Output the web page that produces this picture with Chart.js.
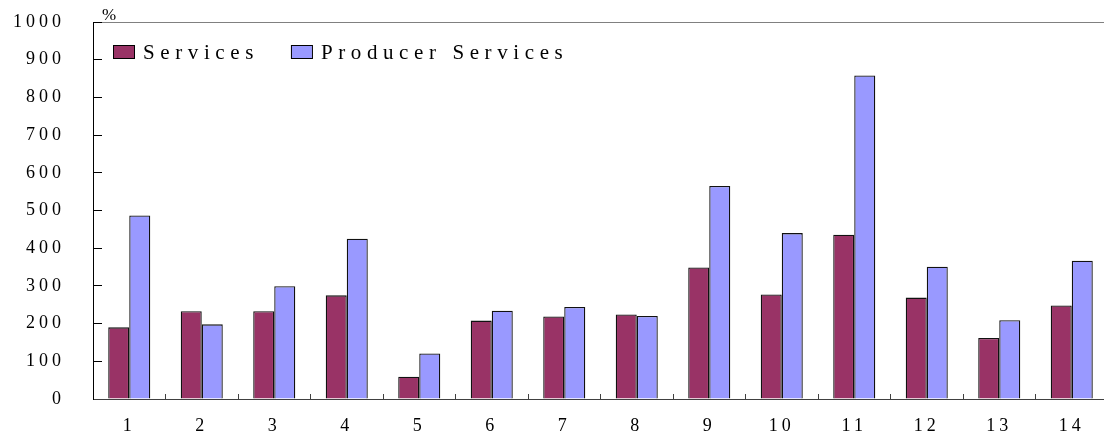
<!DOCTYPE html>
<html lang="en">
<head>
    <meta charset="UTF-8">
    <title>Services vs Producer Services</title>
    <script src="https://cdn.jsdelivr.net/npm/chart.js"></script>
    <style>
        html, body { margin: 0; background: #fff; overflow: hidden; }
        /* plot runs a few px past the right edge, like the original */
        #wrap { width: 1108px; height: 440px; }
    </style>
</head>
<body>
    <div id="wrap"><canvas id="myChart"></canvas></div>

    <script>
        // data
        const categories = ['1','2','3','4','5','6','7','8','9','10','11','12','13','14'];
        const services = [190, 233, 233, 275, 59, 208, 219, 224, 349, 277, 436, 269, 162, 248];
        const producerServices = [487, 198, 299, 425, 121, 234, 244, 220, 565, 440, 858, 351, 209, 367];
        const seriesNames = ['Services', 'Producer Services'];
        const unitLabel = '%';

        const serif = '"Liberation Serif", "Times New Roman", serif';

        // legend drawn inside the plot, plus the % unit
        const insideLegend = {
            id: 'insideLegend',
            beforeDraw(chart) {
                chart.ctx.letterSpacing = '4px';
            },
            afterDraw(chart) {
                const ctx = chart.ctx;
                ctx.save();
                ctx.font = '21px ' + serif;
                ctx.letterSpacing = '5.6px';
                ctx.textBaseline = 'alphabetic';
                ctx.textAlign = 'left';
                let x = 113;
                chart.data.datasets.forEach((ds) => {
                    ctx.fillStyle = ds.backgroundColor;
                    ctx.fillRect(x, 45, 21, 13);
                    ctx.strokeStyle = '#000';
                    ctx.lineWidth = 1;
                    ctx.strokeRect(x + 0.5, 45.5, 21, 13);
                    ctx.fillStyle = '#000';
                    ctx.fillText(ds.label, x + 30, 59);
                    x += 30 + ctx.measureText(ds.label).width + 32;
                });
                ctx.letterSpacing = '0px';
                ctx.font = '17px ' + serif;
                ctx.fillText(unitLabel, 102, 20);
                ctx.restore();
            }
        };

        const ctx = document.querySelector('#myChart').getContext('2d');
        const myChart = new Chart(ctx, {
            type: 'bar',
            data: {
                labels: categories,
                datasets: [
                    {
                        label: seriesNames[0],
                        data: services,
                        backgroundColor: '#993366',
                        borderColor: '#111',
                        borderWidth: 1.3
                    },
                    {
                        label: seriesNames[1],
                        data: producerServices,
                        backgroundColor: '#9999FF',
                        borderColor: '#111',
                        borderWidth: 1.3
                    }
                ]
            },
            options: {
                responsive: true,
                maintainAspectRatio: false,
                animation: false,
                categoryPercentage: 0.58,
                barPercentage: 1.0,
                layout: { padding: { top: 22, left: 0, right: 0, bottom: 0 } },
                plugins: {
                    legend: { display: false },
                    tooltip: { enabled: false }
                },
                scales: {
                    x: {
                        grid: {
                            offset: true,
                            drawOnChartArea: false,
                            tickLength: -5,
                            tickColor: '#404040'
                        },
                        border: { color: '#404040', width: 1 },
                        ticks: {
                            color: '#000',
                            font: { family: serif, size: 18 },
                            padding: 21,
                            maxRotation: 0
                        },
                        afterFit: (s) => {
                            s.height = 41;
                            s.paddingLeft = 0;
                            s.paddingRight = 0;
                        }
                    },
                    y: {
                        min: 0,
                        max: 1000,
                        ticks: {
                            stepSize: 100,
                            color: '#000',
                            font: { family: serif, size: 18 },
                            padding: 37,
                            callback: (v) => String(v)
                        },
                        grid: {
                            color: (c) => (c.tick && c.tick.value === 1000 ? '#808080' : 'rgba(0,0,0,0)'),
                            tickColor: '#000',
                            tickLength: -9
                        },
                        border: { color: '#000', width: 1 },
                        afterFit: (s) => {
                            s.width = 93;
                            s.paddingTop = 0;
                            s.paddingBottom = 0;
                        }
                    }
                }
            },
            plugins: [insideLegend]
        });
    </script>
</body>
</html>
